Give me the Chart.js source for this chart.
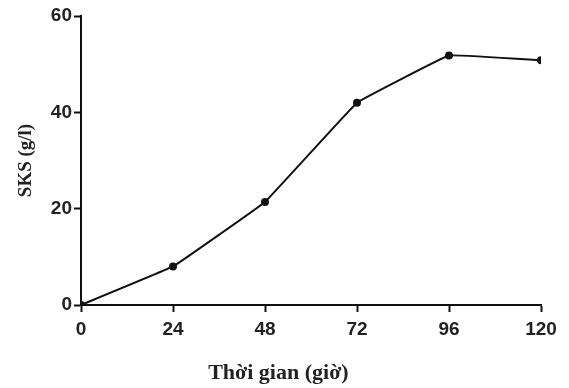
<!DOCTYPE html>
<html>
<head>
<meta charset="utf-8">
<script src="https://cdn.jsdelivr.net/npm/chart.js@4"></script>
<style>
  html, body { margin: 0; padding: 0; background: #fff; }
  #wrap { width: 569px; height: 388px; }
</style>
</head>
<body>
<div id="wrap"><canvas id="lineChart"></canvas></div>
<script>
// Data

const hours = [0, 24, 48, 72, 96, 120];
const sksValues = [0, 8, 21.4, 42, 51.8, 50.8];
const xTicks = [0, 24, 48, 72, 96, 120];
const yTicks = [0, 20, 40, 60];

const xTitle = 'Thời gian (giờ)';
const yTitle = 'SKS (g/l)';

const points = hours.map((h, i) => ({ x: h, y: sksValues[i] }));

// x title sits a bit left of centre in the original, draw it by hand
const xTitlePlugin = {
  id: 'xTitle',
  afterDraw(chart) {
    const ctx = chart.ctx;
    const xScale = chart.scales.x;
    ctx.save();
    ctx.font = 'bold 22px "Liberation Serif", "Times New Roman", serif';
    ctx.fillStyle = '#222';
    ctx.textAlign = 'center';
    ctx.textBaseline = 'middle';
    ctx.fillText(xTitle, xScale.getPixelForValue(51.5), 373);
    ctx.restore();
  }
};

const lineChart = new Chart(document.getElementById('lineChart'), {
  type: 'line',
  data: {
    datasets: [{
      label: yTitle,
      data: points,
      borderColor: '#111',
      backgroundColor: '#111',
      borderWidth: 2,
      pointRadius: 3,
      pointHoverRadius: 3,
      tension: 0.05,
    }]
  },
  options: {
    responsive: true,
    maintainAspectRatio: false,
    animation: false,
    layout: { padding: { top: 16, right: 28, left: 15, bottom: 0 } },
    plugins: {
      legend: { display: false },
      tooltip: { enabled: false },
    },
    scales: {
      x: {
        type: 'linear',
        min: 0,
        max: 120,
        afterBuildTicks: (scale) => { scale.ticks = xTicks.map(v => ({ value: v })); },
        afterFit: (scale) => { scale.height = 83; },
        border: { display: true, color: '#111', width: 2 },
        grid: { display: true, drawOnChartArea: false, drawTicks: true, tickLength: 7, tickColor: '#111', tickWidth: 2 },
        ticks: { color: '#222', font: { family: '"Liberation Sans", Arial, sans-serif', size: 19, weight: 'bold' }, padding: 6, maxRotation: 0 },
      },
      y: {
        min: 0,
        max: 60,
        afterBuildTicks: (scale) => { scale.ticks = yTicks.map(v => ({ value: v })); },
        afterFit: (scale) => { scale.width = 66; },
        border: { display: true, color: '#111', width: 2 },
        grid: { display: true, drawOnChartArea: false, drawTicks: true, tickLength: 7, tickColor: '#111', tickWidth: 2 },
        ticks: { color: '#222', font: { family: '"Liberation Sans", Arial, sans-serif', size: 19, weight: 'bold' }, padding: 2 },
        title: {
          display: true,
          text: yTitle,
          color: '#222',
          font: { family: '"Liberation Serif", "Times New Roman", serif', size: 19, weight: 'bold' },
          padding: { top: 0, bottom: 4 },
        },
      },
    },
  },
  plugins: [xTitlePlugin],
});
</script>
</body>
</html>
